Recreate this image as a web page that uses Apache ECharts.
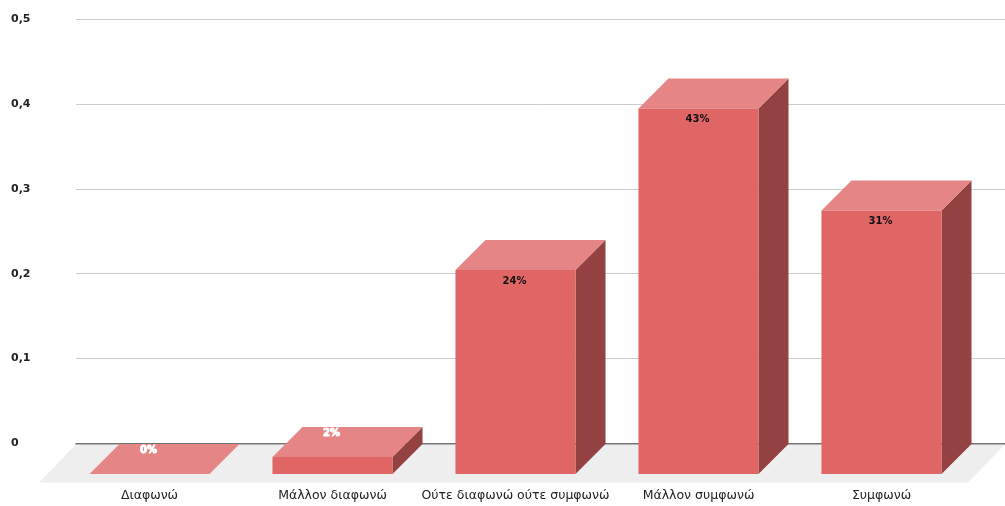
<!DOCTYPE html>
<html>
<head>
<meta charset="utf-8">
<style>
    html, body {margin: 0; padding: 0; background: #fff;}
    #chart {width: 1005px; height: 506px;}
</style>
<script src="https://cdn.jsdelivr.net/npm/echarts@6/dist/echarts.min.js"></script>
</head>
<body>
<div id="chart"></div>
<script>
const categories = ['Διαφωνώ', 'Μάλλον διαφωνώ', 'Ούτε διαφωνώ ούτε συμφωνώ', 'Μάλλον συμφωνώ', 'Συμφωνώ'];
const values = [0, 0.02, 0.24, 0.43, 0.31];
const valueLabels = ['0%', '2%', '24%', '43%', '31%'];
const yTicks = ['0', '0,1', '0,2', '0,3', '0,4', '0,5'];

// depth of the fake 3d box, in pixels
const DEPTH = 30;
const FONT = '"DejaVu Sans", Verdana, sans-serif';

function renderBar(params, api) {
    const i = api.value(0);
    const top = api.coord([i, api.value(1)]);
    const bottom = api.coord([i, 0]);
    const w = api.size([1, 0])[0] * 0.656;
    const x0 = top[0] - w / 2;
    const x1 = top[0] + w / 2;
    const small = bottom[1] - top[1] < DEPTH;
    return {
        type: 'group',
        children: [
            {
                type: 'polygon',
                shape: {points: [[x1, top[1]], [x1 + DEPTH, top[1] - DEPTH], [x1 + DEPTH, bottom[1] - DEPTH], [x1, bottom[1]]]},
                style: {fill: '#934141'}
            },
            {
                type: 'polygon',
                shape: {points: [[x0, top[1]], [x0 + DEPTH, top[1] - DEPTH], [x1 + DEPTH, top[1] - DEPTH], [x1, top[1]]]},
                style: {fill: '#E58585'}
            },
            {
                type: 'rect',
                shape: {x: x0, y: top[1], width: w, height: bottom[1] - top[1]},
                style: {fill: '#E06666'}
            },
            {
                type: 'text',
                // the label of a very low bar moves up on to the lid and turns white
                style: {
                    x: top[0] - 1,
                    y: small ? top[1] - DEPTH + 6 : top[1] + 11,
                    text: valueLabels[i],
                    align: 'center',
                    verticalAlign: 'middle',
                    font: 'bold 10px ' + FONT,
                    fill: small ? '#fff' : '#111',
                    stroke: small ? '#fff' : null,
                    lineWidth: small ? 1 : 0
                },
                z2: 10
            }
        ]
    };
}

function renderFloor(params, api) {
    const rect = params.coordSys;
    const y0 = rect.y + rect.height + 1;
    return {
        type: 'polygon',
        shape: {
            points: [
                [rect.x, y0],
                [rect.x + rect.width, y0],
                [rect.x + rect.width - 37, y0 + 38],
                [rect.x - 37, y0 + 38]
            ]
        },
        style: {fill: '#EEEEEE'}
    };
}

const myChart = echarts.init(document.getElementById('chart'));
myChart.setOption({
    animation: false,
    grid: [
        // back wall: grid lines and value labels
        {left: 76, right: 0, top: 19, bottom: 62.5},
        // front plane: bars and category labels
        {left: 58, right: 32, top: 49, bottom: 32}
    ],
    xAxis: [
        {
            gridIndex: 0,
            type: 'category',
            data: categories,
            axisLine: {lineStyle: {color: '#555', width: 1.5}},
            axisTick: {show: false},
            axisLabel: {show: false}
        },
        {
            gridIndex: 1,
            type: 'category',
            data: categories,
            axisLine: {show: false},
            axisTick: {show: false},
            axisLabel: {
                margin: 15,
                interval: 0,
                color: '#222',
                fontSize: 12.5,
                fontFamily: FONT
            }
        }
    ],
    yAxis: [
        {
            gridIndex: 0,
            type: 'value',
            min: 0,
            max: 0.5,
            interval: 0.1,
            axisLine: {show: false},
            axisTick: {show: false},
            splitLine: {lineStyle: {color: '#CCCCCC', width: 1}},
            axisLabel: {
                formatter: (value, index) => yTicks[index],
                align: 'left',
                margin: 65,
                color: '#222',
                fontSize: 11,
                fontWeight: 'bold',
                fontFamily: FONT,
                padding: [0, 0, 5, 0]
            }
        },
        {
            gridIndex: 1,
            type: 'value',
            min: 0,
            max: 0.5,
            show: false
        }
    ],
    series: [
        {
            type: 'custom',
            xAxisIndex: 0,
            yAxisIndex: 0,
            z: 1,
            silent: true,
            renderItem: renderFloor,
            data: [[0, 0]]
        },
        {
            type: 'custom',
            xAxisIndex: 1,
            yAxisIndex: 1,
            z: 5,
            renderItem: renderBar,
            encode: {x: 0, y: 1},
            data: values.map((v, i) => [i, v])
        }
    ]
});
</script>
</body>
</html>
